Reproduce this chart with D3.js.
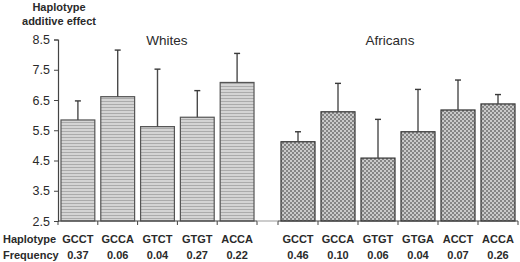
<!DOCTYPE html>
<html>
<head>
<meta charset="utf-8">
<script src="https://cdn.jsdelivr.net/npm/d3@7/dist/d3.min.js"></script>
<style>
  body { margin: 0; background: #fff; }
  text { font-family: "Liberation Sans", Arial, sans-serif; fill: #2a2a2a; }
</style>
</head>
<body>
<svg width="520" height="262"></svg>
<script>
// data
var whitesHaps = ['GCCT', 'GCCA', 'GTCT', 'GTGT', 'ACCA']
var whitesFreq = ['0.37', '0.06', '0.04', '0.27', '0.22']
var whitesEffect = [5.84, 6.61, 5.62, 5.93, 7.08]
var whitesUpper = [6.47, 8.15, 7.52, 6.81, 8.04]

var africansHaps = ['GCCT', 'GCCA', 'GTGT', 'GTGA', 'ACCT', 'ACCA']
var africansFreq = ['0.46', '0.10', '0.06', '0.04', '0.07', '0.26']
var africansEffect = [5.12, 6.11, 4.58, 5.45, 6.17, 6.37]
var africansUpper = [5.45, 7.05, 5.86, 6.85, 7.16, 6.68]

var yTicks = [2.5, 3.5, 4.5, 5.5, 6.5, 7.5, 8.5]

var svg = d3.select('svg')
var defs = svg.append('defs')

// horizontal stripes for whites
var stripes = defs.append('pattern')
    .attr('id', 'stripes')
    .attr('patternUnits', 'userSpaceOnUse')
    .attr('width', 4).attr('height', 3)
stripes.append('rect').attr('width', 4).attr('height', 3).attr('fill', '#d4d4d4')
stripes.append('rect').attr('y', 2).attr('width', 4).attr('height', 1).attr('fill', '#ababab')

// checker for africans
var checker = defs.append('pattern')
    .attr('id', 'checker')
    .attr('patternUnits', 'userSpaceOnUse')
    .attr('width', 4).attr('height', 4)
checker.append('rect').attr('width', 4).attr('height', 4).attr('fill', '#cacaca')
checker.append('rect').attr('width', 2).attr('height', 2).attr('fill', '#858585')
checker.append('rect').attr('x', 2).attr('y', 2).attr('width', 2).attr('height', 2).attr('fill', '#858585')

var y = d3.scaleLinear().domain([2.5, 8.5]).range([221, 39.5])

var xW = d3.scaleBand().domain(whitesHaps).range([58, 257])
    .paddingInner(0.15).paddingOuter(0.075)
var xA = d3.scaleBand().domain(africansHaps).range([278, 518])
    .paddingInner(0.15).paddingOuter(0.075)

// y axis
var yAxis = svg.append('g')
    .attr('transform', 'translate(58,0)')
    .call(d3.axisLeft(y).tickValues(yTicks).tickFormat(d3.format('.1f')).tickSize(4).tickPadding(4))
yAxis.select('.domain').attr('stroke', '#444').attr('stroke-width', 1.2)
yAxis.selectAll('.tick line').attr('stroke', '#444')
yAxis.selectAll('.tick text')
    .style('font-size', '12.5px')
    .style('font-family', '"Liberation Sans", Arial, sans-serif')
    .attr('fill', '#2a2a2a')

// y title
svg.append('text').attr('x', 59).attr('y', 11).attr('text-anchor', 'middle')
    .style('font-size', '11px').style('font-weight', 'bold').text('Haplotype')
svg.append('text').attr('x', 59).attr('y', 25).attr('text-anchor', 'middle')
    .style('font-size', '11px').style('font-weight', 'bold').text('additive effect')

function drawGroup(scale, haps, effect, upper, freq, fill, stroke, title, titleX) {
    var g = svg.append('g')
    var data = haps.map(function(h, i) {
        return {hap: h, v: effect[i], up: upper[i], f: freq[i]}
    })

    // bars
    g.selectAll('rect.bar').data(data).enter().append('rect')
        .attr('class', 'bar')
        .attr('x', function(d) { return scale(d.hap) })
        .attr('width', scale.bandwidth())
        .attr('y', function(d) { return y(d.v) })
        .attr('height', function(d) { return y(2.5) - y(d.v) })
        .attr('fill', fill)
        .attr('stroke', stroke)
        .attr('stroke-width', 1.2)

    // error bars (upper only)
    g.selectAll('line.err').data(data).enter().append('line')
        .attr('x1', function(d) { return scale(d.hap) + scale.bandwidth() / 2 })
        .attr('x2', function(d) { return scale(d.hap) + scale.bandwidth() / 2 })
        .attr('y1', function(d) { return y(d.v) })
        .attr('y2', function(d) { return y(d.up) })
        .attr('stroke', '#4a4a4a').attr('stroke-width', 1.4)
    g.selectAll('line.cap').data(data).enter().append('line')
        .attr('x1', function(d) { return scale(d.hap) + scale.bandwidth() / 2 - 3 })
        .attr('x2', function(d) { return scale(d.hap) + scale.bandwidth() / 2 + 3 })
        .attr('y1', function(d) { return y(d.up) })
        .attr('y2', function(d) { return y(d.up) })
        .attr('stroke', '#3a3a3a').attr('stroke-width', 1.4)

    // baseline and slot ticks
    var r = scale.range()
    g.append('line').attr('x1', r[0]).attr('x2', r[1])
        .attr('y1', y(2.5)).attr('y2', y(2.5))
        .attr('stroke', '#444').attr('stroke-width', 1.2)
    d3.range(haps.length + 1).forEach(function(i) {
        var x = r[0] + i * scale.step()
        g.append('line').attr('x1', x).attr('x2', x)
            .attr('y1', y(2.5)).attr('y2', y(2.5) + 4)
            .attr('stroke', '#444')
    })

    // labels
    g.selectAll('text.hap').data(data).enter().append('text')
        .attr('x', function(d) { return scale(d.hap) + scale.bandwidth() / 2 })
        .attr('y', 243)
        .attr('text-anchor', 'middle')
        .style('font-size', '11px').style('font-weight', 'bold')
        .text(function(d) { return d.hap })
    g.selectAll('text.freq').data(data).enter().append('text')
        .attr('x', function(d) { return scale(d.hap) + scale.bandwidth() / 2 })
        .attr('y', 259)
        .attr('text-anchor', 'middle')
        .style('font-size', '11px').style('font-weight', 'bold')
        .text(function(d) { return d.f })

    g.append('text')
        .attr('x', titleX)
        .attr('y', 45)
        .attr('text-anchor', 'middle')
        .style('font-size', '13.5px')
        .text(title)
}

drawGroup(xW, whitesHaps, whitesEffect, whitesUpper, whitesFreq, 'url(#stripes)', '#555', 'Whites', 167)
drawGroup(xA, africansHaps, africansEffect, africansUpper, africansFreq, 'url(#checker)', '#333', 'Africans', 390)

// gap segment between groups
svg.append('line').attr('x1', 257).attr('x2', 278)
    .attr('y1', y(2.5)).attr('y2', y(2.5))
    .attr('stroke', '#999').attr('stroke-width', 1)

svg.append('text').attr('x', 3).attr('y', 243)
    .style('font-size', '11px').style('font-weight', 'bold').text('Haplotype')
svg.append('text').attr('x', 3).attr('y', 259)
    .style('font-size', '11px').style('font-weight', 'bold').text('Frequency')
</script>
</body>
</html>
